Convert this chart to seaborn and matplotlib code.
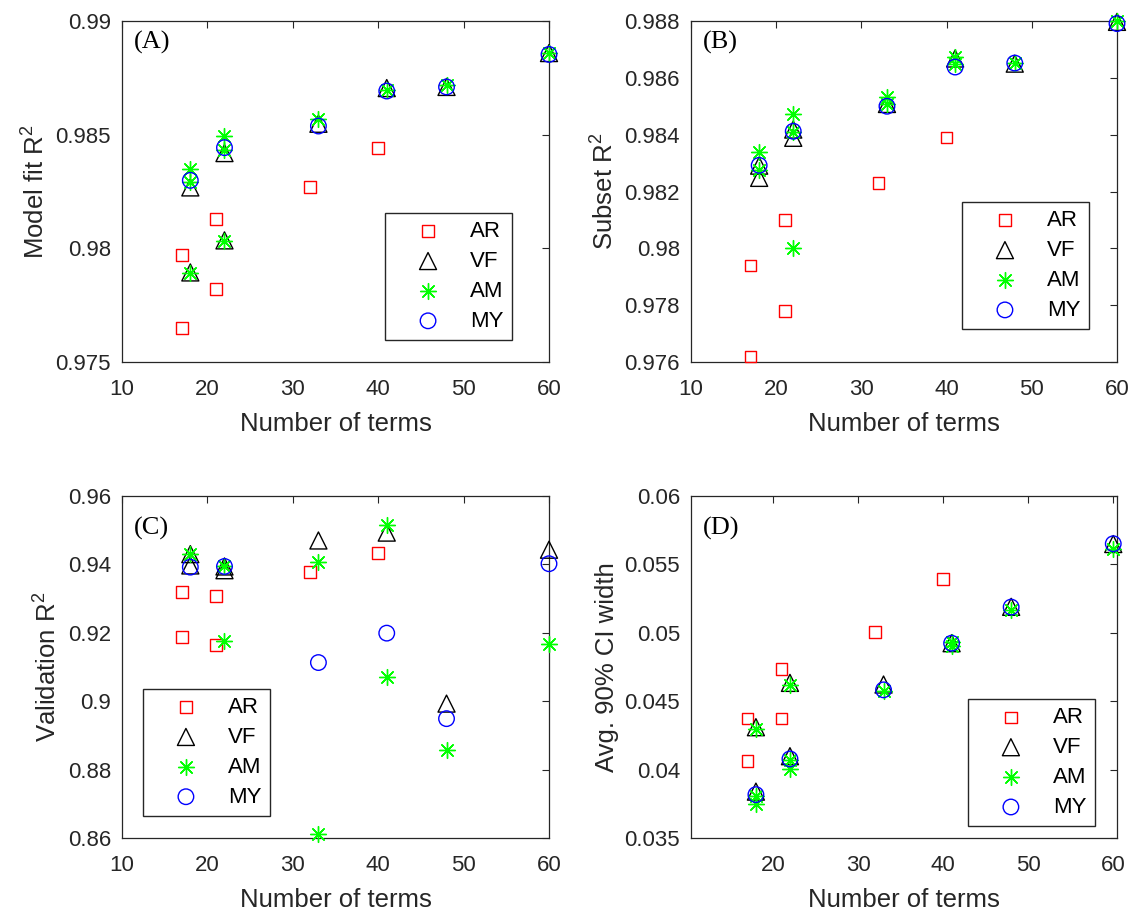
import numpy as np
import pandas as pd
import matplotlib
matplotlib.use("Agg")
import matplotlib.pyplot as plt
from matplotlib.ticker import FuncFormatter, FixedLocator
import seaborn as sns

# ---------------- data ----------------
series_names = ["AR", "VF", "AM", "MY"]

# Panel A: Model fit R^2
a_ar_x = [17, 17, 21, 21, 32, 40]
a_ar_y = [0.9797, 0.9765, 0.9813, 0.9782, 0.9827, 0.9844]
a_vf_x = [18, 18, 22, 22, 33, 41, 48, 60]
a_vf_y = [0.98268, 0.97894, 0.98419, 0.98035, 0.98548, 0.98705, 0.98710, 0.98859]
a_am_x = [18, 18, 18, 22, 22, 22, 33, 41, 48, 60]
a_am_y = [0.98350, 0.98292, 0.97891, 0.98493, 0.98434, 0.98032, 0.98570, 0.98698, 0.98717, 0.98859]
a_my_x = [18, 22, 33, 41, 48, 60]
a_my_y = [0.98299, 0.98443, 0.98538, 0.98692, 0.98710, 0.98853]

# Panel B: Subset R^2
b_ar_x = [17, 17, 21, 21, 32, 40]
b_ar_y = [0.9794, 0.9762, 0.9810, 0.9778, 0.9823, 0.9839]
b_vf_x = [18, 18, 22, 22, 33, 41, 48, 60]
b_vf_y = [0.98291, 0.98248, 0.98418, 0.98389, 0.98508, 0.98668, 0.98650, 0.98797]
b_am_x = [18, 18, 22, 22, 22, 33, 33, 41, 41, 48, 60]
b_am_y = [0.98339, 0.98275, 0.98471, 0.98410, 0.98000, 0.98533, 0.98507, 0.98673, 0.98650, 0.98652, 0.98800]
b_my_x = [18, 22, 33, 41, 48, 60]
b_my_y = [0.98292, 0.98412, 0.98500, 0.98638, 0.98652, 0.98791]

# Panel C: Validation R^2
c_ar_x = [17, 17, 21, 21, 32, 40]
c_ar_y = [0.9319, 0.9188, 0.9308, 0.9165, 0.9378, 0.9433]
c_vf_x = [18, 18, 22, 22, 33, 41, 48, 60]
c_vf_y = [0.9430, 0.9397, 0.9383, 0.9394, 0.9470, 0.9493, 0.8993, 0.9443]
c_am_x = [18, 22, 22, 33, 33, 41, 41, 48, 60]
c_am_y = [0.9431, 0.9394, 0.9176, 0.9407, 0.8613, 0.9514, 0.9071, 0.8856, 0.9166]
c_my_x = [18, 22, 33, 41, 48, 60]
c_my_y = [0.9392, 0.9394, 0.9113, 0.9199, 0.8949, 0.9402]

# Panel D: Avg. 90% CI width
d_ar_x = [17, 17, 21, 21, 32, 40]
d_ar_y = [0.04373, 0.04061, 0.04734, 0.04373, 0.05005, 0.05395]
d_vf_x = [18, 18, 22, 22, 33, 41, 48, 60]
d_vf_y = [0.04310, 0.03839, 0.04634, 0.04098, 0.04622, 0.04924, 0.05190, 0.05649]
d_am_x = [18, 18, 18, 22, 22, 22, 33, 41, 41, 48, 60]
d_am_y = [0.04298, 0.03810, 0.03749, 0.04622, 0.04071, 0.04005, 0.04578, 0.04932, 0.04907, 0.05168, 0.05615]
d_my_x = [18, 22, 33, 41, 48, 60]
d_my_y = [0.03817, 0.04078, 0.04583, 0.04924, 0.05188, 0.05651]

panel_labels = ["(A)", "(B)", "(C)", "(D)"]
y_labels = ["Model fit R$^2$", "Subset R$^2$", "Validation R$^2$", "Avg. 90% CI width"]
x_label = "Number of terms"
a_yticks = [0.975, 0.98, 0.985, 0.99]
b_yticks = [0.976, 0.978, 0.98, 0.982, 0.984, 0.986, 0.988]
c_yticks = [0.86, 0.88, 0.9, 0.92, 0.94, 0.96]
d_yticks = [0.035, 0.04, 0.045, 0.05, 0.055, 0.06]
abc_xticks = [10, 20, 30, 40, 50, 60]
d_xticks = [20, 30, 40, 50, 60]

# ---------------- style ----------------
sns.set_theme(style="white")
plt.rcParams["font.family"] = ["Liberation Sans", "DejaVu Sans"]
plt.rcParams["mathtext.fontset"] = "custom"
plt.rcParams["mathtext.rm"] = "Liberation Sans"
plt.rcParams["mathtext.it"] = "Liberation Sans:italic"
plt.rcParams["mathtext.default"] = "regular"

AX_COL = "#262626"
styles = {
    "AR": dict(marker="s", s=70, facecolor="none", edgecolor="#ff0000", linewidth=1.0),
    "VF": dict(marker="^", s=150, facecolor="none", edgecolor="#000000", linewidth=1.0),
    "AM": dict(marker=(8, 2, 0), s=130, color="#00ff00", linewidth=1.0),
    "MY": dict(marker="o", s=125, facecolor="none", edgecolor="#0000ff", linewidth=1.0),
}

W, H = 1136, 913
fig = plt.figure(figsize=(W / 100, H / 100), dpi=100)

def add_ax(left, top, right, bottom):
    return fig.add_axes([left / W, 1 - bottom / H, (right - left) / W, (bottom - top) / H])

axes = [
    add_ax(122, 21, 549, 362),
    add_ax(691, 21, 1117, 362),
    add_ax(122, 496, 549, 838),
    add_ax(691, 496, 1117, 838),
]

panels = [
    ([(a_ar_x, a_ar_y), (a_vf_x, a_vf_y), (a_am_x, a_am_y), (a_my_x, a_my_y)],
     (10, 60), abc_xticks, (0.975, 0.99), a_yticks, (0.616, 0.437), 0.936),
    ([(b_ar_x, b_ar_y), (b_vf_x, b_vf_y), (b_am_x, b_am_y), (b_my_x, b_my_y)],
     (10, 60), abc_xticks, (0.976, 0.988), b_yticks, (0.636, 0.469), 0.936),
    ([(c_ar_x, c_ar_y), (c_vf_x, c_vf_y), (c_am_x, c_am_y), (c_my_x, c_my_y)],
     (10, 60), abc_xticks, (0.86, 0.96), c_yticks, (0.049, 0.436), 0.906),
    ([(d_ar_x, d_ar_y), (d_vf_x, d_vf_y), (d_am_x, d_am_y), (d_my_x, d_my_y)],
     (10.37, 60.44), d_xticks, (0.035, 0.06), d_yticks, (0.650, 0.406), 0.906),
]

fmt = FuncFormatter(lambda v, p: f"{v:g}")

for i, (ax, (data, xlim, xt, ylim, yt, legpos, laby)) in enumerate(zip(axes, panels)):
    for name, (xs, ys) in zip(series_names, data):
        df = pd.DataFrame({"x": xs, "y": ys})
        sns.scatterplot(data=df, x="x", y="y", ax=ax, label=name, legend=False,
                        zorder=3, clip_on=False, **styles[name])
    ax.set_xlim(*xlim)
    ax.set_ylim(*ylim)
    ax.xaxis.set_major_locator(FixedLocator(xt))
    ax.yaxis.set_major_locator(FixedLocator(yt))
    ax.yaxis.set_major_formatter(fmt)
    ax.xaxis.set_major_formatter(fmt)
    ax.tick_params(axis="both", direction="in", top=True, right=True, length=5,
                   width=0.8, color=AX_COL, labelsize=16, labelcolor=AX_COL)
    ax.tick_params(axis="x", pad=12)
    ax.tick_params(axis="y", pad=8)
    for sp in ax.spines.values():
        sp.set_visible(True)
        sp.set_color(AX_COL)
        sp.set_linewidth(0.9)
    ax.set_xlabel(x_label, fontsize=18.5, color=AX_COL, labelpad=9)
    ax.set_ylabel(y_labels[i], fontsize=18.5, color=AX_COL, labelpad=4)
    ax.text(0.027, laby, panel_labels[i], transform=ax.transAxes, va="center", ha="left",
            fontsize=19, family="Liberation Serif", color="black")
    leg = ax.legend(loc="upper left", bbox_to_anchor=legpos, borderaxespad=0,
                    fontsize=16, handlelength=3.15, handletextpad=0.32, borderpad=0.36,
                    labelspacing=0.4, frameon=True, fancybox=False, edgecolor="#262626",
                    framealpha=1, scatterpoints=1)
    leg.get_frame().set_linewidth(1.0)
    leg.set_zorder(5)
    for t in leg.get_texts():
        t.set_color("black")

fig.savefig("out.png", dpi=100)
